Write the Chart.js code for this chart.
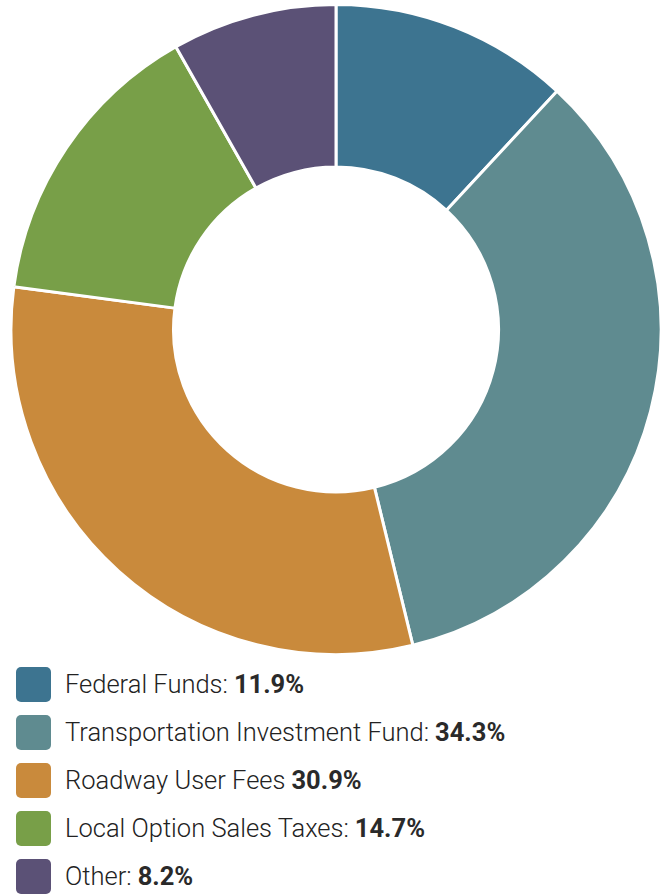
<!DOCTYPE html>
<html>
<head>
<meta charset="utf-8">
<script src="https://cdn.jsdelivr.net/npm/chart.js@4"></script>
<style>
  body { margin: 0; background: #fff; font-family: Roboto, "Liberation Sans", Arial, sans-serif; }
  #wrap { width: 665px; height: 660px; }
  #legend { list-style: none; margin: 0; padding: 0 0 0 16px; }
  #legend li { display: flex; align-items: center; height: 48px; font-size: 25.5px; font-weight: 300; color: #222; }
  #legend .box { width: 35px; height: 35px; border-radius: 5px; margin-right: 14px; flex: none; }
  #legend b { font-weight: 700; color: #2a2a2a; margin-left: 6px; }
</style>
</head>
<body>
<div id="wrap"><canvas id="fundingChart"></canvas></div>
<ul id="legend"></ul>
<script>
const labels = ['Federal Funds', 'Transportation Investment Fund', 'Roadway User Fees', 'Local Option Sales Taxes', 'Other'];
const shares = [11.9, 34.3, 30.9, 14.7, 8.2];
const colors = ['#3d7490', '#5f8b90', '#c98a3c', '#789f48', '#5b5176'];
const separators = [':', ':', '', ':', ':'];

document.addEventListener("DOMContentLoaded", function () {
  new Chart(document.getElementById('fundingChart').getContext('2d'), {
    type: 'doughnut',
    data: {
      labels: labels,
      datasets: [{
        data: shares,
        backgroundColor: colors,
        borderColor: '#fff',
        borderWidth: 3
      }]
    },
    options: {
      responsive: true,
      maintainAspectRatio: false,
      animation: false,
      cutout: '50%',
      layout: { padding: { top: 3, bottom: 4, left: 7, right: 0 } },
      plugins: {
        legend: { display: false },
        tooltip: { enabled: false }
      }
    }
  });

  // html legend: label in light weight, share in bold
  const legend = document.getElementById('legend');
  labels.forEach(function (label, i) {
    const li = document.createElement('li');
    li.innerHTML = '<span class="box" style="background:' + colors[i] + '"></span>' +
      '<span>' + label + separators[i] + '<b>' + shares[i].toFixed(1) + '%</b></span>';
    legend.appendChild(li);
  });
});
</script>
</body>
</html>
